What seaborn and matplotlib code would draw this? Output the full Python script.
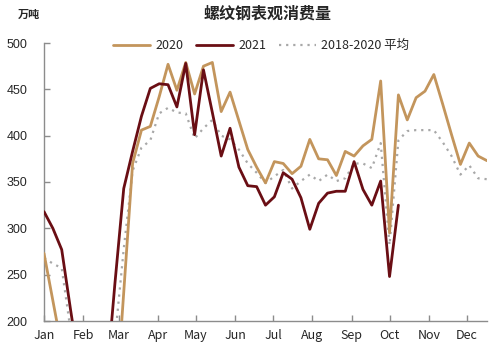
import matplotlib
matplotlib.use("Agg")
import matplotlib.pyplot as plt
import matplotlib.dates as mdates
import seaborn as sns
import pandas as pd

# ---- data (weekly) ----
months = ["Jan", "Feb", "Mar", "Apr", "May", "Jun", "Jul", "Aug", "Sep", "Oct", "Nov", "Dec"]
y2020 = [273, 222, 171, 90, 40, 30, 40, 60, 93, 231, 370, 406, 410, 442, 477, 449, 479, 445,
         475, 479, 426, 447, 416, 385, 366, 349, 372, 370, 359, 367, 396, 375, 374, 357, 383,
         378, 389, 396, 459, 295, 444, 417, 441, 448, 466, 434, 401, 369, 392, 378, 373]
y2021 = [318, 300, 277, 212, 150, 100, 60, 129, 240, 343, 383, 421, 451, 456, 455, 431, 478,
         401, 471, 425, 378, 408, 366, 346, 345, 325, 334, 360, 353, 333, 299, 327, 338, 340,
         340, 372, 342, 325, 351, 248, 325]
avg = [268, 262, 257, 190, 140, 100, 110, 140, 180, 278, 362, 387, 395, 424, 430, 425, 424,
       397, 408, 417, 400, 396, 385, 370, 360, 349, 356, 363, 343, 351, 358, 351, 358, 351,
       354, 370, 370, 365, 392, 282, 395, 405, 406, 406, 406, 393, 378, 358, 368, 354, 353]
labels = ["2020", "2021", "2018-2020 平均"]
yticks = [200, 250, 300, 350, 400, 450, 500]

dates = pd.date_range("2021-01-01", periods=len(y2020), freq="7D")
df20 = pd.DataFrame({"date": dates, "v": y2020})
df21 = pd.DataFrame({"date": dates[:len(y2021)], "v": y2021})
dfav = pd.DataFrame({"date": dates, "v": avg})

sns.set_style("white")
plt.rcParams["font.family"] = ["Noto Sans CJK SC", "DejaVu Sans"]

fig = plt.figure(figsize=(4.99, 3.52), dpi=100)
ax = fig.add_axes([44 / 499, 1 - 321 / 352, (487 - 44) / 499, (321 - 43) / 352])

c20 = "#C3955C"
c21 = "#6A0E14"
cav = "#A8A8A8"

sns.lineplot(data=dfav, x="date", y="v", ax=ax, color=cav, lw=1.6,
             linestyle=(0, (1, 2.2)), label=labels[2], zorder=2)
sns.lineplot(data=df20, x="date", y="v", ax=ax, color=c20, lw=2.0, label=labels[0], zorder=3)
sns.lineplot(data=df21, x="date", y="v", ax=ax, color=c21, lw=2.0, label=labels[1], zorder=4)

ax.set_ylim(200, 500)
ax.set_xlim(dates[0], dates[-1])
ax.set_yticks(yticks)
mticks = pd.date_range("2021-01-01", periods=12, freq="MS")
ax.set_xticks(mticks)
ax.set_xticklabels(months)
ax.set_xlabel("")
ax.set_ylabel("")

for s in ["top", "right"]:
    ax.spines[s].set_visible(False)
for s in ["left", "bottom"]:
    ax.spines[s].set_color("#8C8C8C")
    ax.spines[s].set_linewidth(1.0)

ax.tick_params(axis="y", direction="in", length=4, width=1, color="#8C8C8C",
               pad=12, labelsize=9, left=True)
ax.tick_params(axis="x", direction="in", length=4, width=1, color="#8C8C8C",
               pad=6, labelsize=9, bottom=True)
for t in ax.get_yticklabels():
    t.set_fontfamily(["Liberation Sans", "DejaVu Sans"])

h, l = ax.get_legend_handles_labels()
order = [l.index(x) for x in labels]
leg = ax.legend([h[i] for i in order], [l[i] for i in order], loc="center",
                bbox_to_anchor=(0.49, 0.99), ncol=3, frameon=False, fontsize=9,
                handlelength=3.0, handletextpad=0.4, columnspacing=1.0)

fig.text(268 / 499, 1 - 14 / 352, "螺纹钢表观消费量", ha="center", va="center",
         fontsize=11.5, fontweight="bold")
fig.text(29 / 499, 1 - 14 / 352, "万吨", ha="center", va="center", fontsize=8,
         fontweight="bold")

fig.savefig("out.png", dpi=100)
